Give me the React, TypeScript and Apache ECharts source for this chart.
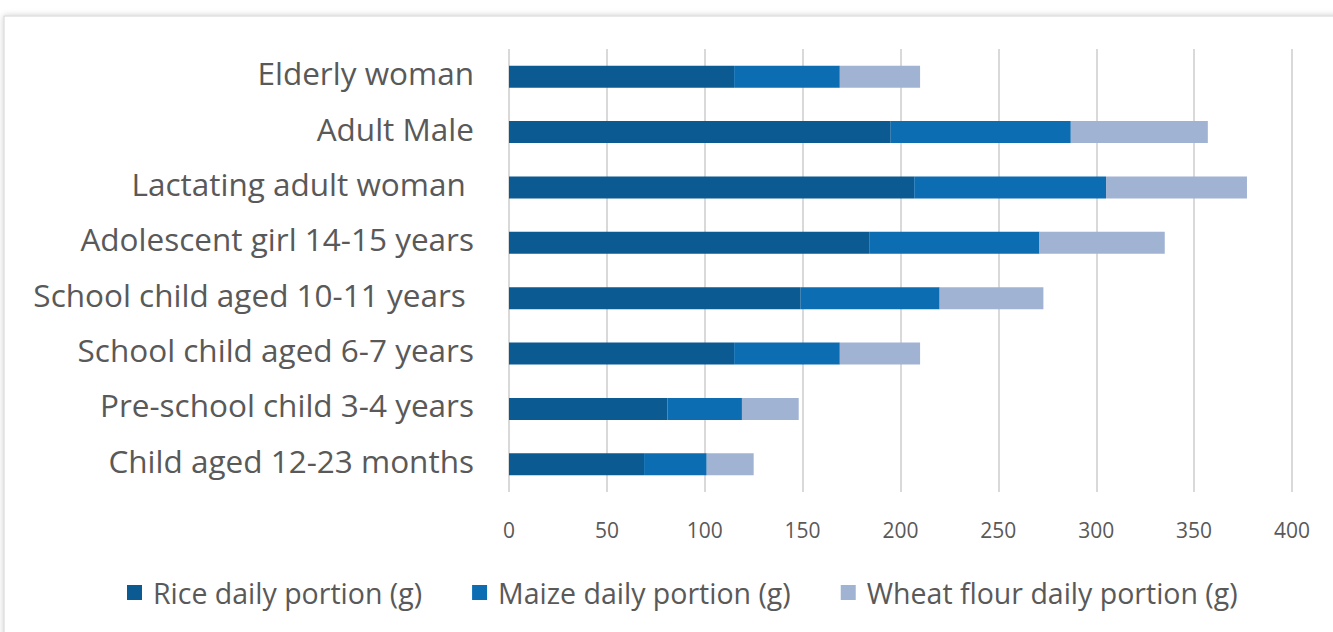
import React, { useEffect, useRef } from "react";
import * as echarts from "echarts";

const categories = [
  "Elderly woman",
  "Adult Male",
  "Lactating adult woman ",
  "Adolescent girl 14-15 years",
  "School child aged 10-11 years ",
  "School child aged 6-7 years",
  "Pre-school child 3-4 years",
  "Child aged 12-23 months",
];
const rice = [115, 195, 207, 184, 149, 115, 81, 69];
const maize = [54, 92, 98, 87, 71, 54, 38, 32];
const wheat = [41, 70, 72, 64, 53, 41, 29, 24];
const seriesNames = [
  "Rice daily portion (g)",
  "Maize daily portion (g)",
  "Wheat flour daily portion (g)",
];
const colors = ["#0B5A92", "#0C6DB3", "#A1B3D3"];

export default function App() {
  const ref = useRef<HTMLDivElement>(null);
  useEffect(() => {
    if (!ref.current) return;
    const chart = echarts.init(ref.current, null, { renderer: "svg" });
    const font = "'Open Sans', 'Noto Sans', sans-serif";
    const data = [rice, maize, wheat];
    chart.setOption({
      animation: false,
      backgroundColor: "#ffffff",
      textStyle: { fontFamily: font },
      graphic: [
        {
          type: "rect",
          z: -10,
          zlevel: 0,
          shape: { x: 4, y: 16, width: 1360, height: 640 },
          style: {
            fill: "#ffffff",
            stroke: "#d4d4d4",
            lineWidth: 1,
            shadowBlur: 6,
            shadowColor: "rgba(0,0,0,0.2)",
          },
          silent: true,
        },
      ],
      grid: { left: 509, right: 41, top: 49, bottom: 140, containLabel: false },
      xAxis: {
        type: "value",
        min: 0,
        max: 400,
        interval: 50,
        axisLine: { show: false },
        axisTick: { show: false },
        splitLine: { show: true, lineStyle: { color: "#d9d9d9", width: 2 } },
        axisLabel: { color: "#595959", fontSize: 21, margin: 27, fontFamily: font },
      },
      yAxis: {
        type: "category",
        data: categories,
        inverse: true,
        axisLine: { show: false },
        axisTick: { show: false },
        axisLabel: {
          color: "#595959",
          fontSize: 31.5,
          margin: 35,
          fontFamily: font,
          verticalAlign: "bottom",
          lineHeight: 8,
        },
      },
      legend: {
        top: 578,
        left: 127,
        padding: 0,
        itemWidth: 15,
        itemHeight: 15,
        itemGap: 50,
        icon: "rect",
        textStyle: { color: "#595959", fontSize: 28.5, fontFamily: font, padding: [0, 0, 0, 6] },
        data: seriesNames,
      },
      series: seriesNames.map((name, i) => ({
        name,
        type: "bar",
        stack: "total",
        data: data[i],
        barWidth: 22,
        itemStyle: { color: colors[i] },
      })),
    });
    return () => chart.dispose();
  }, []);
  return (
    <div
      ref={ref}
      style={{ position: "fixed", left: 0, top: 0, width: 1333, height: 632 }}
    />
  );
}
